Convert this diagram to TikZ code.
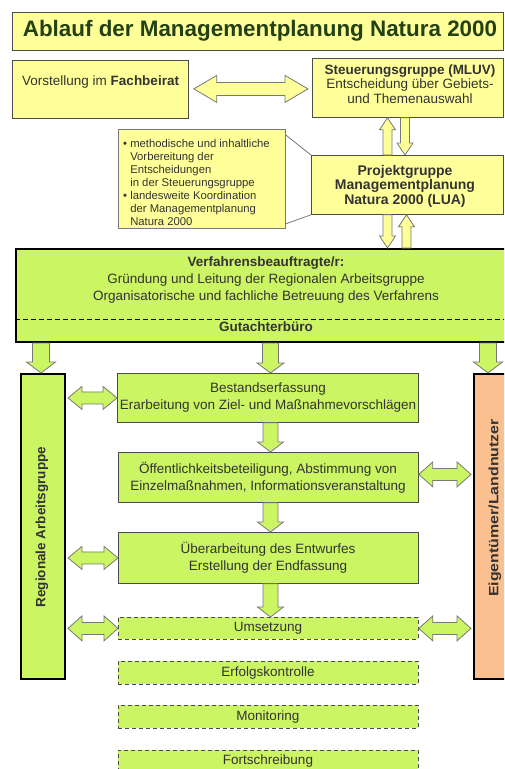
\documentclass[tikz,border=0pt]{standalone}
\usepackage{fontspec}
\setmainfont{Liberation Sans}
\usetikzlibrary{calc}
\definecolor{ygl}{RGB}{255,255,153}
\definecolor{grn}{RGB}{204,245,100}
\definecolor{peach}{RGB}{250,192,143}
\definecolor{txt}{RGB}{51,51,51}
\definecolor{ttl}{RGB}{35,65,20}
\definecolor{bord}{RGB}{75,75,75}
\definecolor{aline}{RGB}{120,120,120}
% double horizontal block arrow: style, left pt, right pt, head w, shaft w, head len
\newcommand\dblH[6]{\path[#1] let \p1=#2, \p2=#3 in
  (\x1,\y1) -- (\x1+#6pt,\y1+#4pt/2) -- (\x1+#6pt,\y1+#5pt/2) -- (\x2-#6pt,\y1+#5pt/2)
  -- (\x2-#6pt,\y1+#4pt/2) -- (\x2,\y1) -- (\x2-#6pt,\y1-#4pt/2) -- (\x2-#6pt,\y1-#5pt/2)
  -- (\x1+#6pt,\y1-#5pt/2) -- (\x1+#6pt,\y1-#4pt/2) -- cycle;}
% single vertical block arrows: style, tail, tip, head w, shaft w, head len
\newcommand\arrDown[6]{\path[#1] let \p1=#2, \p2=#3 in
  (\x1-#5pt/2,\y1) -- (\x1-#5pt/2,\y2+#6pt) -- (\x1-#4pt/2,\y2+#6pt) -- (\x1,\y2)
  -- (\x1+#4pt/2,\y2+#6pt) -- (\x1+#5pt/2,\y2+#6pt) -- (\x1+#5pt/2,\y1) -- cycle;}
\newcommand\arrUp[6]{\path[#1] let \p1=#2, \p2=#3 in
  (\x1-#5pt/2,\y1) -- (\x1-#5pt/2,\y2-#6pt) -- (\x1-#4pt/2,\y2-#6pt) -- (\x1,\y2)
  -- (\x1+#4pt/2,\y2-#6pt) -- (\x1+#5pt/2,\y2-#6pt) -- (\x1+#5pt/2,\y1) -- cycle;}
\begin{document}
\begin{tikzpicture}[x=1pt,y=-1pt,
  every node/.style={inner sep=0pt, text=txt, font=\fontsize{13.5}{17}\selectfont},
  boxy/.style={draw=bord, line width=0.8pt, fill=ygl, anchor=north west},
  boxg/.style={draw=bord, line width=0.8pt, fill=grn, anchor=north west},
  boxd/.style={draw=bord, line width=0.8pt, fill=grn, anchor=north west, dash pattern=on 4pt off 3pt},
  boxk/.style={draw=black, line width=2pt, fill=grn, anchor=north west},
  yarrow/.style={draw=aline, line width=0.8pt, fill=ygl, line join=miter},
  garrow/.style={draw=aline, line width=0.8pt, fill=grn, line join=miter}]
\useasboundingbox (0,0) rectangle (504,769);
\clip (0,0) rectangle (504,769);
\fill[white] (0,0) rectangle (504,769);

% title
\node[boxy, minimum width=491pt, minimum height=38pt] (title) at (12,12) {};
\node[text=ttl, font=\fontsize{22.4}{26}\selectfont\bfseries] (titleT) at (260,31) {Ablauf der Managementplanung Natura 2000};

% top row
\node[boxy, minimum width=176pt, minimum height=58pt] (fach) at (12,60) {};
\node[anchor=west] (fachT) at (22,82) {Vorstellung im \textbf{Fachbeirat}};
\node[boxy, minimum width=191pt, minimum height=59pt] (steuer) at (312,58) {};
\node[align=center, font=\fontsize{13.5}{14.5}\selectfont] (steuerT) at (410,84)
  {\textbf{Steuerungsgruppe (MLUV)}\\Entscheidung über Gebiets-\\und Themenauswahl};

% Projektgruppe and callout
\node[boxy, minimum width=192pt, minimum height=59pt] (projekt) at (311,155) {};
\node[align=center, font=\fontsize{14}{14.5}\selectfont\bfseries] (projektT) at (405,186)
  {Projektgruppe\\Managementplanung\\Natura 2000 (LUA)};
\node[boxy, draw=aline, minimum width=167pt, minimum height=99pt] (callout) at (118,129) {};
\draw[aline, line width=0.8pt] ($(callout.north east)+(0,6)$) -- (projekt.north west);
\draw[aline, line width=0.8pt] ($(callout.south east)+(0,-5)$) -- (projekt.south west);
\node[anchor=north west, align=left, font=\fontsize{11.3}{13.1}\selectfont] (calloutT) at (123,139)
  {•\ methodische und inhaltliche\\
   \phantom{•\ }Vorbereitung der\\
   \phantom{•\ }Entscheidungen\\
   \phantom{•\ }in der Steuerungsgruppe\\
   •\ landesweite Koordination\\
   \phantom{•\ }der Managementplanung\\
   \phantom{•\ }Natura 2000};

% Verfahrensbeauftragte box
\node[boxk, minimum width=503pt, minimum height=93pt] (verf) at (15,248) {};
\coordinate (dl) at (15,319);
\coordinate (dr) at (518,319);
\draw[black, line width=1pt, dash pattern=on 5pt off 3pt] (dl) -- (dr);
\node[align=center] (verfT) at (266,280)
  {\textbf{Verfahrensbeauftragte/r:}\\Gründung und Leitung der Regionalen Arbeitsgruppe\\Organisatorische und fachliche Betreuung des Verfahrens};
\node[font=\fontsize{13.5}{17}\selectfont\bfseries] (gutT) at (266,327) {Gutachterbüro};

% side boxes
\node[boxk, minimum width=44pt, minimum height=305pt] (rag) at (20,373) {};
\node[rotate=90, font=\fontsize{13.5}{17}\selectfont\bfseries] (ragT) at (42,527) {Regionale Arbeitsgruppe};
\node[boxk, fill=peach, minimum width=45pt, minimum height=305pt] (eig) at (473,373) {};
\node[rotate=90, font=\fontsize{13.5}{17}\selectfont\bfseries] (eigT) at (495,508) {\scalebox{1.18}[1]{Eigentümer/Landnutzer}};

% process boxes
\node[boxg, minimum width=301pt, minimum height=49pt] (best) at (117,373) {};
\node[align=center] (bestT) at (268,398) {Bestandserfassung\\Erarbeitung von Ziel- und Maßnahmevorschlägen};
\node[boxg, minimum width=300pt, minimum height=50pt] (oeff) at (118,452) {};
\node[align=center] (oeffT) at (268,478) {Öffentlichkeitsbeteiligung, Abstimmung von\\Einzelmaßnahmen, Informationsveranstaltung};
\node[boxg, minimum width=300pt, minimum height=51pt] (ueber) at (118,532) {};
\node[align=center] (ueberT) at (268,558) {Überarbeitung des Entwurfes\\Erstellung der Endfassung};
\node[boxd, minimum width=300pt, minimum height=22pt] (ums) at (118,617) {};
\node (umsT) at (268,628.5) {Umsetzung};
\node[boxd, minimum width=300pt, minimum height=23pt] (erf) at (118,661) {};
\node (erfT) at (268,673) {Erfolgskontrolle};
\node[boxd, minimum width=300pt, minimum height=23pt] (mon) at (118,705) {};
\node (monT) at (268,717) {Monitoring};
\node[boxd, minimum width=300pt, minimum height=26pt] (fort) at (118,750) {};
\node (fortT) at (268,761) {Fortschreibung};

% x positions for vertical arrows
\coordinate (xa) at (387.5,0);
\coordinate (xb) at (405,0);
\coordinate (xc) at (406.5,0);
\coordinate (xl) at (41,0);
\coordinate (xm) at (270.5,0);
\coordinate (xr) at (488,0);

% yellow arrows
\dblH{yarrow}{($(fach.east)+(5,-0.5)$)}{($(steuer.west)+(-4,0)$)}{27}{13}{23}
\arrUp{yarrow}{(xa |- projekt.north)}{(xa |- steuer.south)}{16}{9}{12}
\arrDown{yarrow}{(xb |- steuer.south)}{(xb |- projekt.north)}{16}{9}{12}
\arrDown{yarrow}{(xa |- projekt.south)}{(xa |- verf.north)}{16}{9}{12}
\arrUp{yarrow}{(xc |- verf.north)}{(xc |- projekt.south)}{16}{9}{12}

% green arrows down
\arrDown{garrow}{(xl |- verf.south)}{(xl |- rag.north)}{29}{17}{11}
\arrDown{garrow}{(xm |- verf.south)}{(xm |- best.north)}{27}{16}{10}
\arrDown{garrow}{(xr |- verf.south)}{(xr |- eig.north)}{29}{17}{11}
\arrDown{garrow}{(xm |- best.south)}{(xm |- oeff.north)}{26}{15}{10}
\arrDown{garrow}{(xm |- oeff.south)}{(xm |- ueber.north)}{26}{15}{10}
\arrDown{garrow}{(xm |- ueber.south)}{(xm |- ums.north)}{26}{15}{10}

% green double arrows
\dblH{garrow}{($(rag.east |- best.west)+(2,0)$)}{(best.west)}{23}{12}{14}
\dblH{garrow}{($(rag.east |- ueber.west)+(2,0)$)}{(ueber.west)}{23}{12}{14}
\dblH{garrow}{($(rag.east |- ums.west)+(2,0)$)}{(ums.west)}{25}{12}{14}
\dblH{garrow}{($(oeff.east)+(0,-3)$)}{($(eig.west |- oeff.east)+(-2,-3)$)}{25}{12}{14}
\dblH{garrow}{(ums.east)}{($(eig.west |- ums.east)+(-2,0)$)}{25}{12}{14}
\end{tikzpicture}
\end{document}
